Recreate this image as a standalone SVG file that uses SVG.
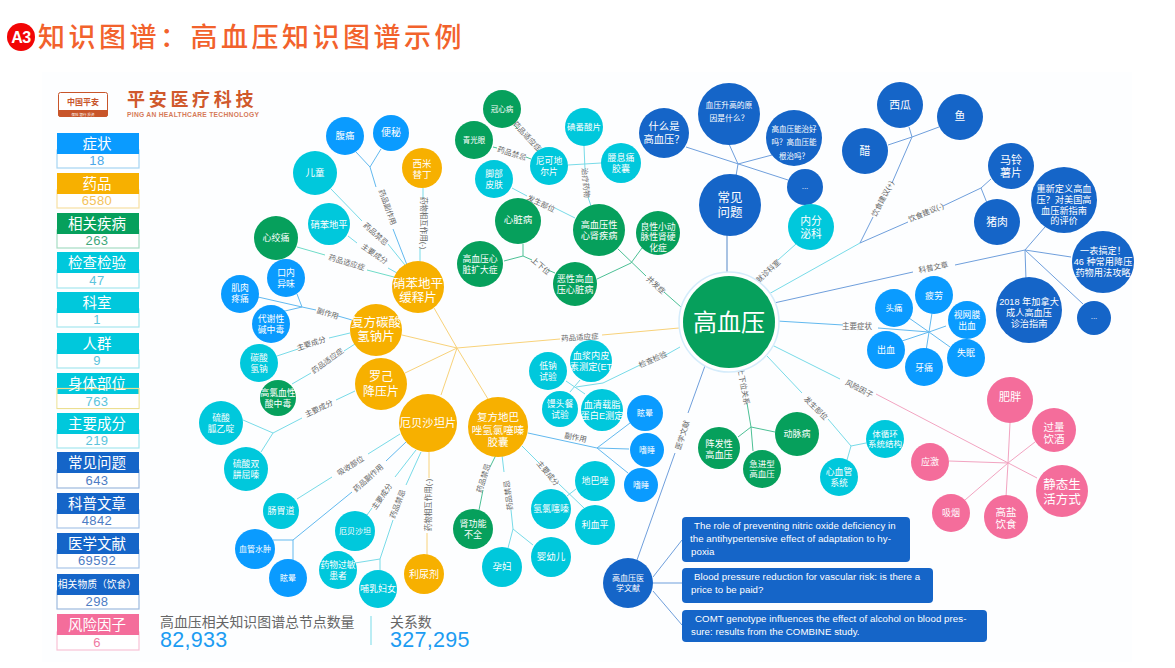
<svg xmlns="http://www.w3.org/2000/svg" width="1175" height="668" viewBox="0 0 1175 668">
<style>
text{font-family:"Liberation Sans","Noto Sans CJK SC",sans-serif}
.b{fill:#0a9bff}.a{fill:#f7b000}.g{fill:#06a05c}.c{fill:#00c8dc}.d{fill:#1565c8}.p{fill:#f46d9b}
.t{fill:#fff;text-anchor:middle}
.l{fill:#666;font-size:7.500px;text-anchor:middle}
.hd{fill:#fff;font-size:14.500px;text-anchor:middle}
.num{font-size:13px;text-anchor:middle;letter-spacing:.4px}
.box{fill:#fff;stroke-width:1.2}
.en{fill:#fff;font-size:9.700px;letter-spacing:.05px}
path{fill:none;stroke-width:1}
.ca{stroke:#f8d27a}.cb{stroke:#62b9ef}.cc{stroke:#78dbe8}.cg{stroke:#4cc095}.cd{stroke:#6f9fdc}.cp{stroke:#f2a4c1}.ct{stroke:#6fdcc8}
</style>
<rect x="42" y="72" width="1090" height="590" fill="#fdfeff"/>
<g id="title">
<circle cx="21" cy="37" r="14" fill="#f20505"/>
<text x="21" y="43" style="font-weight:700;font-size:16px;fill:#fff;text-anchor:middle;letter-spacing:-.5px">A3</text>
<text x="38" y="47" style="font-family:'Noto Sans CJK SC',sans-serif;font-size:27px;fill:#f2622c;letter-spacing:3.500px;font-weight:500">知识图谱&#xFF1A;高血压知识图谱示例</text>
</g>
<g id="logo">
<rect x="58.500" y="92.500" width="49" height="24" rx="2" fill="#fff" stroke="#c8552a"/>
<path d="M58 110H108V114a3 3 0 0 1-3 3H61a3 3 0 0 1-3-3Z" style="fill:#c8552a;stroke:none"/>
<text x="83" y="105" style="font-size:8px;font-weight:700;fill:#c8552a;text-anchor:middle">中国平安</text>
<text x="83" y="115.500" style="font-size:3.500px;fill:#fff;text-anchor:middle">保险 银行 投资</text>
<text x="127" y="106" style="font-size:18px;font-weight:700;fill:#d0592c;letter-spacing:3.700px">平安医疗科技</text>
<text x="127" y="117" style="font-size:6.700px;font-weight:700;fill:#d67a58;letter-spacing:.28px">PING AN HEALTHCARE TECHNOLOGY</text>
</g>
<g id="legend">
<g id="lg-zz"><rect class="box" x="57" y="150" width="82" height="18" stroke="#a6d4f2"/><rect x="57" y="133" width="82" height="21" fill="#0a9bff"/><text class="hd" x="97" y="149">症状</text><text class="num" x="97" y="165" fill="#4ca8e8">18</text></g>
<g id="lg-yp"><rect class="box" x="57" y="190" width="82" height="18" stroke="#f7dfa2"/><rect x="57" y="173" width="82" height="21" fill="#f7b000"/><text class="hd" x="97" y="189">药品</text><text class="num" x="97" y="205" fill="#f3c25a">6580</text></g>
<g id="lg-jb"><rect class="box" x="57" y="230" width="82" height="18" stroke="#a5dcc3"/><rect x="57" y="213" width="82" height="21" fill="#06a05c"/><text class="hd" x="97" y="229">相关疾病</text><text class="num" x="97" y="245" fill="#3fa97c">263</text></g>
<g id="lg-jc"><rect class="box" x="57" y="270" width="82" height="18" stroke="#a5e6ee"/><rect x="57" y="252" width="82" height="21" fill="#00c8dc"/><text class="hd" x="97" y="268">检查检验</text><text class="num" x="97" y="285" fill="#5cc4dc">47</text></g>
<g id="lg-ks"><rect class="box" x="57" y="309" width="82" height="18" stroke="#a5e6ee"/><rect x="57" y="292" width="82" height="21" fill="#00c8dc"/><text class="hd" x="97" y="308">科室</text><text class="num" x="97" y="324" fill="#5cc4dc">1</text></g>
<g id="lg-rq"><rect class="box" x="57" y="350" width="82" height="18" stroke="#a5e6ee"/><rect x="57" y="333" width="82" height="21" fill="#00c8dc"/><text class="hd" x="97" y="349">人群</text><text class="num" x="97" y="365" fill="#5cc4dc">9</text></g>
<g id="lg-bw"><rect x="57" y="373" width="82" height="21" fill="#00c8dc"/><rect x="57" y="388.500" width="82" height="20" fill="none" stroke="#ecdf90" stroke-width="1.200"/><rect x="57.600" y="394" width="80.800" height="14" fill="#fff"/><text class="hd" x="97" y="389">身体部位</text><text class="num" x="97" y="406" fill="#5cc4dc">763</text></g>
<g id="lg-cf"><rect class="box" x="57" y="430" width="82" height="18" stroke="#a5e6ee"/><rect x="57" y="413" width="82" height="21" fill="#00c8dc"/><text class="hd" x="97" y="429">主要成分</text><text class="num" x="97" y="445" fill="#5cc4dc">219</text></g>
<g id="lg-wt"><rect class="box" x="57" y="470" width="82" height="18" stroke="#9db9de"/><rect x="57" y="452" width="82" height="21" fill="#1565c8"/><text class="hd" x="97" y="468">常见问题</text><text class="num" x="97" y="485" fill="#4d7cc4">643</text></g>
<g id="lg-kp"><rect class="box" x="57" y="510" width="82" height="18" stroke="#a9c5e8"/><rect x="57" y="493" width="82" height="21" fill="#1565c8"/><text class="hd" x="97" y="509">科普文章</text><text class="num" x="97" y="525" fill="#4d7cc4">4842</text></g>
<g id="lg-wx"><rect class="box" x="57" y="550" width="82" height="18" stroke="#a9c5e8"/><rect x="57" y="533" width="82" height="21" fill="#1565c8"/><text class="hd" x="97" y="549">医学文献</text><text class="num" x="97" y="565" fill="#4d7cc4">69592</text></g>
<g id="lg-wz"><rect class="box" x="57" y="591" width="82" height="18" stroke="#9db9de"/><rect x="57" y="574" width="82" height="21" fill="#1565c8"/><text class="hd" style="font-size:9.800px" x="97" y="588">相关物质&#xFF08;饮食&#xFF09;</text><text class="num" x="97" y="606" fill="#4d7cc4">298</text></g>
<g id="lg-fx"><rect class="box" x="57" y="632" width="82" height="18" stroke="#f8c2d6"/><rect x="57" y="614" width="82" height="21" fill="#f46d9b"/><text class="hd" x="97" y="630">风险因子</text><text class="num" x="97" y="647" fill="#f07aa2">6</text></g>
</g>
<g id="stats">
<text x="160" y="627" style="font-size:13.900px;fill:#666">高血压相关知识图谱总节点数量</text>
<text x="160" y="647" style="font-size:21.500px;fill:#1c9cf2;letter-spacing:.3px">82,933</text>
<path class="cc" d="M371 616V645"/>
<text x="390" y="627" style="font-size:13.900px;fill:#666">关系数</text>
<text x="390" y="647" style="font-size:21.500px;fill:#1c9cf2;letter-spacing:.3px">327,295</text>
</g>
<g id="connectors">
<path class="ca" d="M434 308L457 348M402 335L457 348M405 373L457 348M441 395L457 348M488 399L457 348M457 348L560 339M602 335L679 328"/>
<path class="cb" d="M407 265L393 229M376 187L370 167L356 152M370 167L381 149"/>
<path class="cc" d="M423 188V198M420 248L420 263"/>
<path class="cc" d="M331 189L362 221M388 244L405 265M348 236L357 243M388 268L397 273"/>
<path class="ct" d="M297 247L325 255M367 270L394 277"/>
<path class="cb" d="M352 320L338 316M316 310L302 307L258 297M302 307L297 294M302 307L285 311L271 314"/>
<path class="cc" d="M350 333L329 338M298 349L277 356M355 344L344 351M311 373L292 384M355 391L336 400M302 418L273 433L243 420M273 433L261 452"/>
<path class="cc" d="M400 434L368 454M332 477L297 499M416 450L395 477M372 508L367 515M421 452L406 485M393 520L380 559L355 563M380 559V572"/>
<path class="cb" d="M406 442L386 461M352 492L293 540L273 540M293 540V560"/>
<path class="ca" d="M429 452V478M427 533V555"/>
<path class="cb" d="M528 433L597 448L630 423M597 448L629 449M597 448L628 473"/>
<path class="cc" d="M522 446L539 463M559 484L584 508M567 496L576 489"/>
<path class="cg" d="M496 455L490 467M483 490L479 510"/>
<path class="cc" d="M502 455L504 472M511 510L513 529L508 548M513 529L533 545"/>
<path class="cg" d="M618 249L646 276M664 292L681 307M642 248L631 263L597 279"/>
<path class="cc" d="M512 188L527 196M555 208L575 218"/>
<path class="cg" d="M555 273L548 270M532 260L523 256L523 244M523 256L504 261"/>
<path class="cc" d="M591 206L588 197M585 170L584 146M568 165L601 163"/>
<path class="cg" d="M514 125L518 129M537 150L541 155M493 147L497 148M526 157L531 159"/>
<path class="cd" d="M727 235V275" style="stroke:#a9c3e3;stroke-width:2"/>
<path class="cd" d="M736 176L738 164L729 144M738 164L772 155M686 147L788 180"/>
<path class="cc" d="M796 244L778 260M767 295L860 243"/>
<path class="cd" d="M860 243L873 217M892 183L912 137L909 127M912 137L939 127M912 137L888 145M860 243L908 222M943 206L981 188L991 179M981 188L987 203"/>
<path class="cd" d="M774 303L913 272M955 265L1025 250L1045 227M1025 250L1071 257M1025 250L1026 280M1025 250L1083 304"/>
<path class="cb" d="M777 321L843 325M878 328L929 332L909 318M929 332L932 313M929 332L946 326M929 332L902 341M929 332L926 351M929 332L950 347"/>
<path class="cc" d="M772 345L840 379M767 356L802 393M828 419L851 446L866 443M851 446L847 460"/>
<path class="cp" d="M876 394L1037 478M1008 463L1010 423M1008 463L1035 442M1008 463L949 461M1008 463L965 500M1008 463L1006 497"/>
<path class="cg" d="M747 403L751 427L738 437M751 427L753 451M751 427L775 432"/>
<path class="cd" d="M706 363L688 413M675 453L637 560M653 577L682 540M653 583H682M653 591L682 625"/>
<path class="cc" d="M680 347L664 356M640 365L603 383L576 387M566 381L585 394M580 380L570 392"/>
<text class="l" transform="translate(385 208) rotate(70)">药品副作用</text>
<text class="l" transform="translate(421 223) rotate(90)">药物相互作用(-)</text>
<text class="l" transform="translate(374 236) rotate(42)">药品禁忌</text>
<text class="l" transform="translate(373 256) rotate(35)">主要成分</text>
<text class="l" transform="translate(346 265) rotate(17)">药品适应症</text>
<text class="l" transform="translate(327 316) rotate(17)">副作用</text>
<text class="l" transform="translate(312 346) rotate(-18)">主要成分</text>
<text class="l" transform="translate(329 363) rotate(-36)">药品适应症</text>
<text class="l" transform="translate(320 411) rotate(-25)">主要成分</text>
<text class="l" transform="translate(352 468) rotate(-32)">吸收部位</text>
<text class="l" transform="translate(370 480) rotate(-42)">药品副作用</text>
<text class="l" transform="translate(384 498) rotate(-55)">主要成分</text>
<text class="l" transform="translate(400 505) rotate(-68)">药品禁忌</text>
<text class="l" transform="translate(431 505) rotate(-90)">药物相互作用(-)</text>
<text class="l" transform="translate(575 440) rotate(12)">副作用</text>
<text class="l" transform="translate(546 475) rotate(50)">主要成分</text>
<text class="l" transform="translate(486 479) rotate(-73)">药品禁忌</text>
<text class="l" transform="translate(511 495) rotate(-98)">药品禁忌</text>
<text class="l" transform="translate(654 287) rotate(42)">并发症</text>
<text class="l" transform="translate(540 206) rotate(25)">发生部位</text>
<text class="l" transform="translate(539 268) rotate(40)">上下位</text>
<text class="l" transform="translate(583 183) rotate(85)">治疗药物</text>
<text class="l" transform="translate(525 138) rotate(47)">药品适应症</text>
<text class="l" transform="translate(511 156) rotate(18)">药品禁忌</text>
<text class="l" transform="translate(770 273) rotate(-43)">就诊科室</text>
<text class="l" transform="translate(885 200) rotate(-63)">饮食建议(+)</text>
<text class="l" transform="translate(927 215) rotate(-23)">饮食建议(-)</text>
<text class="l" transform="translate(934 270) rotate(-12)">科普文章</text>
<text class="l" x="857" y="329">主要症状</text>
<text class="l" transform="translate(858 391) rotate(27)">风险因子</text>
<text class="l" transform="translate(814 410) rotate(45)">发生部位</text>
<text class="l" transform="translate(741 387) rotate(80)">上下位关系</text>
<text class="l" transform="translate(685 436) rotate(-72)">医学文献</text>
<text class="l" transform="translate(580 340) rotate(-4)">药品适应症</text>
<text class="l" transform="translate(654 362) rotate(-24)">检查检验</text>
</g>
<g id="n-gxy"><circle cx="729" cy="322" r="50" fill="#fff" stroke="#d5ecfb" stroke-width="1.500"/><circle class="g" cx="729" cy="322" r="46"/><text class="t" x="729" y="331" style="font-size:24px">高血压</text></g>
<g id="n-xbdp"><circle class="a" cx="418" cy="287" r="26"/><text class="t" style="font-size:12.500px" x="418" y="287.500">硝苯地平<tspan x="418" dy="14.700">缓释片</tspan></text></g>
<g id="n-ftsq"><circle class="a" cx="376" cy="330" r="26"/><text class="t" style="font-size:12.500px" x="376" y="326.500">复方碳酸<tspan x="376" dy="14.500">氢钠片</tspan></text></g>
<g id="n-lj"><circle class="a" cx="381" cy="384" r="26"/><text class="t" style="font-size:12px" x="381" y="381.300">罗己<tspan x="381" dy="15">降压片</tspan></text></g>
<g id="n-ebst"><circle class="a" cx="428" cy="423" r="29"/><text class="t" style="font-size:11.300px" x="428" y="427">厄贝沙坦片</text></g>
<g id="n-fdb"><circle class="a" cx="498" cy="427" r="30"/><text class="t" style="font-size:10.500px" x="498" y="421">复方地巴<tspan x="498" dy="12.500">唑氢氯噻嗪</tspan><tspan x="498" dy="12.500">胶囊</tspan></text></g>
<g id="n-xmtd"><circle class="a" cx="422" cy="168" r="20"/><text class="t" style="font-size:9.500px" x="422" y="166.500">西米<tspan x="422" dy="11">替丁</tspan></text></g>
<g id="n-lnj"><circle class="a" cx="424" cy="574" r="20"/><text class="t" style="font-size:10px" x="424" y="578">利尿剂</text></g>
<g id="n-ft"><circle class="b" cx="345" cy="136" r="19"/><text class="t" style="font-size:9.500px" x="345" y="139">腹痛</text></g>
<g id="n-bm"><circle class="b" cx="391" cy="133" r="18"/><text class="t" style="font-size:10px" x="391" y="136">便秘</text></g>
<g id="n-et"><circle class="c" cx="315" cy="173" r="22"/><text class="t" style="font-size:9.500px" x="315" y="176">儿童</text></g>
<g id="n-xb"><circle class="c" cx="329" cy="224" r="21"/><text class="t" style="font-size:9.300px" x="329" y="228">硝苯地平</text></g>
<g id="n-xjt"><circle class="g" cx="276" cy="238" r="22"/><text class="t" style="font-size:9px" x="276" y="241">心绞痛</text></g>
<g id="n-kn"><circle class="b" cx="286" cy="278" r="19"/><text class="t" style="font-size:8.800px" x="286" y="276">口内<tspan x="286" dy="10.500">异味</tspan></text></g>
<g id="n-jr"><circle class="b" cx="240" cy="294" r="19"/><text class="t" style="font-size:8.800px" x="240" y="291">肌肉<tspan x="240" dy="10.500">疼痛</tspan></text></g>
<g id="n-dx"><circle class="b" cx="271" cy="324" r="19"/><text class="t" style="font-size:8.800px" x="271" y="322">代谢性<tspan x="271" dy="10.500">碱中毒</tspan></text></g>
<g id="n-tsqn"><circle class="c" cx="259" cy="363" r="19"/><text class="t" style="font-size:8.800px" x="259" y="361">碳酸<tspan x="259" dy="10.500">氢钠</tspan></text></g>
<g id="n-gl"><circle class="g" cx="278" cy="398" r="18"/><text class="t" style="font-size:8.800px" x="278" y="396">高氯血性<tspan x="278" dy="10.500">酸中毒</tspan></text></g>
<g id="n-lsg"><circle class="c" cx="221" cy="423" r="22"/><text class="t" style="font-size:8.800px" x="221" y="421">硫酸<tspan x="221" dy="10.500">胍乙啶</tspan></text></g>
<g id="n-lss"><circle class="c" cx="246" cy="469" r="22"/><text class="t" style="font-size:8.800px" x="246" y="467">硫酸双<tspan x="246" dy="10.500">肼屈嗪</tspan></text></g>
<g id="n-cwd"><circle class="c" cx="281" cy="511" r="18"/><text class="t" style="font-size:9px" x="281" y="514">肠胃道</text></g>
<g id="n-xg"><circle class="b" cx="255" cy="549" r="20"/><text class="t" style="font-size:8px" x="255" y="552">血管水肿</text></g>
<g id="n-xy1"><circle class="b" cx="288" cy="578" r="19"/><text class="t" style="font-size:8px" x="288" y="581">眩晕</text></g>
<g id="n-eb"><circle class="c" cx="355" cy="531" r="20"/><text class="t" style="font-size:8px" x="355" y="534">厄贝沙坦</text></g>
<g id="n-ywgm"><circle class="c" cx="338" cy="570" r="19"/><text class="t" style="font-size:8.800px" x="338" y="568">药物过敏<tspan x="338" dy="10.500">患者</tspan></text></g>
<g id="n-brfn"><circle class="c" cx="378" cy="589" r="19"/><text class="t" style="font-size:9px" x="378" y="592">哺乳妇女</text></g>
<g id="n-gxb"><circle class="g" cx="502" cy="109" r="19"/><text class="t" style="font-size:7.500px" x="502" y="112">冠心病</text></g>
<g id="n-qgy"><circle class="g" cx="474" cy="140" r="19"/><text class="t" style="font-size:7.500px" x="474" y="143">青光眼</text></g>
<g id="n-jb"><circle class="c" cx="494" cy="179" r="19"/><text class="t" style="font-size:8.800px" x="494" y="177">脚部<tspan x="494" dy="10.500">皮肤</tspan></text></g>
<g id="n-nk"><circle class="c" cx="549" cy="166" r="19"/><text class="t" style="font-size:8.800px" x="549" y="164">尼可地<tspan x="549" dy="10.500">尔片</tspan></text></g>
<g id="n-dfs"><circle class="c" cx="584" cy="127" r="19"/><text class="t" style="font-size:8.500px" x="584" y="130">碘番酸片</text></g>
<g id="n-yxt"><circle class="c" cx="621" cy="163" r="20"/><text class="t" style="font-size:9px" x="621" y="161">腰息痛<tspan x="621" dy="11">胶囊</tspan></text></g>
<g id="n-xzb"><circle class="g" cx="518" cy="221" r="23"/><text class="t" style="font-size:9.500px" x="518" y="223">心脏病</text></g>
<g id="n-kd"><circle class="g" cx="480" cy="264" r="23"/><text class="t" style="font-size:8.800px" x="480" y="262">高血压心<tspan x="480" dy="10.500">脏扩大症</tspan></text></g>
<g id="n-xs"><circle class="g" cx="599" cy="230" r="26"/><text class="t" style="font-size:9.200px" x="599" y="228">高血压性<tspan x="599" dy="11">心肾疾病</tspan></text></g>
<g id="n-lx"><circle class="g" cx="658" cy="233" r="22"/><text class="t" style="font-size:8.800px" x="658" y="229.500">良性小动<tspan x="658" dy="10.500">脉性肾硬</tspan><tspan x="658" dy="10.500">化症</tspan></text></g>
<g id="n-ex"><circle class="g" cx="575" cy="284" r="22"/><text class="t" style="font-size:9.200px" x="575" y="282">恶性高血<tspan x="575" dy="11">压心脏病</tspan></text></g>
<g id="n-xjnp"><circle class="c" cx="591" cy="361" r="21"/><text class="t" style="font-size:9.200px" x="591" y="359">血浆内皮<tspan x="591" dy="11">素测定(ET</tspan></text></g>
<g id="n-dn"><circle class="c" cx="548" cy="371" r="19"/><text class="t" style="font-size:8.800px" x="548" y="369">低钠<tspan x="548" dy="10.500">试验</tspan></text></g>
<g id="n-mt"><circle class="c" cx="560" cy="409" r="18"/><text class="t" style="font-size:8.800px" x="560" y="407">馒头餐<tspan x="560" dy="10.500">试验</tspan></text></g>
<g id="n-xq"><circle class="c" cx="602" cy="410" r="21"/><text class="t" style="font-size:9.200px" x="602" y="408">血清载脂<tspan x="602" dy="11">蛋白E测定</tspan></text></g>
<g id="n-xy2"><circle class="b" cx="645" cy="413" r="18"/><text class="t" style="font-size:8px" x="645" y="416">眩晕</text></g>
<g id="n-ss1"><circle class="b" cx="647" cy="450" r="17"/><text class="t" style="font-size:8px" x="647" y="453">嗜睡</text></g>
<g id="n-ss2"><circle class="b" cx="641" cy="485" r="17"/><text class="t" style="font-size:8px" x="641" y="488">嗜睡</text></g>
<g id="n-dbz"><circle class="c" cx="595" cy="481" r="20"/><text class="t" style="font-size:9px" x="595" y="484">地巴唑</text></g>
<g id="n-qlsq"><circle class="c" cx="551" cy="509" r="20"/><text class="t" style="font-size:9px" x="551" y="512">氢氯噻嗪</text></g>
<g id="n-lxp"><circle class="c" cx="595" cy="525" r="20"/><text class="t" style="font-size:9px" x="595" y="528">利血平</text></g>
<g id="n-sgn"><circle class="g" cx="473" cy="529" r="20"/><text class="t" style="font-size:9px" x="473" y="527">肾功能<tspan x="473" dy="11">不全</tspan></text></g>
<g id="n-yf"><circle class="c" cx="502" cy="567" r="20"/><text class="t" style="font-size:9.500px" x="502" y="570">孕妇</text></g>
<g id="n-yye"><circle class="c" cx="551" cy="557" r="20"/><text class="t" style="font-size:9.500px" x="551" y="560">婴幼儿</text></g>
<g id="n-wx"><circle class="d" cx="628" cy="583" r="25"/><text class="t" style="font-size:8px" x="628" y="581">高血压医<tspan x="628" dy="10">学文献</tspan></text></g>
<g id="n-wsm"><circle class="d" cx="664" cy="133" r="25"/><text class="t" style="font-size:10.300px" x="664" y="130">什么是<tspan x="664" dy="12.500">高血压&#xFF1F;</tspan></text></g>
<g id="n-cj"><circle class="d" cx="730" cy="205" r="31"/><text class="t" style="font-size:12.500px" x="730" y="202">常见<tspan x="730" dy="15">问题</tspan></text></g>
<g id="n-yy"><circle class="d" cx="729" cy="114" r="31"/><text class="t" style="font-size:7.800px" x="729" y="108">血压升高的原<tspan x="729" dy="12.700">因是什么&#xFF1F;</tspan></text></g>
<g id="n-zh"><circle class="d" cx="794" cy="138" r="28"/><text class="t" style="font-size:7.500px" x="794" y="132">高血压能治好<tspan x="794" dy="13.300">吗&#xFF1F;高血压能</tspan><tspan x="794" dy="13.300">根治吗&#xFF1F;</tspan></text></g>
<g id="n-m1"><circle class="d" cx="805" cy="187" r="18"/><text class="t" style="font-size:8px" x="805" y="189">...</text></g>
<g id="n-nfm"><circle class="c" cx="811" cy="227" r="23"/><text class="t" style="font-size:10.800px" x="811" y="225">内分<tspan x="811" dy="12.500">泌科</tspan></text></g>
<g id="n-xg2"><circle class="d" cx="900" cy="105" r="23"/><text class="t" style="font-size:10.800px" x="900" y="109">西瓜</text></g>
<g id="n-y"><circle class="d" cx="960" cy="117" r="23"/><text class="t" style="font-size:10.800px" x="960" y="120">鱼</text></g>
<g id="n-c"><circle class="d" cx="865" cy="151" r="23"/><text class="t" style="font-size:10.800px" x="865" y="155">醋</text></g>
<g id="n-mls"><circle class="d" cx="1011" cy="166" r="23"/><text class="t" style="font-size:11px" x="1011" y="163.500">马铃<tspan x="1011" dy="13.300">薯片</tspan></text></g>
<g id="n-zr"><circle class="d" cx="997" cy="222" r="23"/><text class="t" style="font-size:10.800px" x="997" y="226">猪肉</text></g>
<g id="n-cx"><circle class="d" cx="1064" cy="200" r="33"/><text class="t" style="font-size:9.200px" x="1064" y="192.300">重新定义高血<tspan x="1064" dy="10.700">压&#xFF1F;对美国高</tspan><tspan x="1064" dy="10.700">血压新指南</tspan><tspan x="1064" dy="10.700">的评价</tspan></text></g>
<g id="n-yb"><circle class="d" cx="1103" cy="262" r="31"/><text class="t" style="font-size:9.200px" x="1103" y="254.300">一表搞定&#xFF01;<tspan x="1103" dy="11">46 种常用降压</tspan><tspan x="1103" dy="11">药物用法攻略</tspan></text></g>
<g id="n-jnd"><circle class="d" cx="1029" cy="310" r="33"/><text class="t" style="font-size:9.200px" x="1029" y="305.300">2018 年加拿大<tspan x="1029" dy="10.700">成人高血压</tspan><tspan x="1029" dy="10.700">诊治指南</tspan></text></g>
<g id="n-m2"><circle class="d" cx="1094" cy="318" r="17"/><text class="t" style="font-size:8px" x="1094" y="319">...</text></g>
<g id="n-tt"><circle class="b" cx="894" cy="308" r="19"/><text class="t" style="font-size:8.500px" x="894" y="311">头痛</text></g>
<g id="n-pl"><circle class="b" cx="934" cy="295" r="19"/><text class="t" style="font-size:9px" x="934" y="299">疲劳</text></g>
<g id="n-swm"><circle class="b" cx="967" cy="320" r="19"/><text class="t" style="font-size:8.800px" x="967" y="318">视网膜<tspan x="967" dy="10.500">出血</tspan></text></g>
<g id="n-cx2"><circle class="b" cx="886" cy="350" r="19"/><text class="t" style="font-size:9px" x="886" y="353">出血</text></g>
<g id="n-yt"><circle class="b" cx="924" cy="367" r="19"/><text class="t" style="font-size:9px" x="924" y="371">牙痛</text></g>
<g id="n-sm"><circle class="b" cx="966" cy="358" r="19"/><text class="t" style="font-size:9px" x="966" y="356">失眠</text></g>
<g id="n-fp"><circle class="p" cx="1010" cy="400" r="23"/><text class="t" style="font-size:11.300px" x="1010" y="401">肥胖</text></g>
<g id="n-gl2"><circle class="p" cx="1054" cy="430" r="22"/><text class="t" style="font-size:10.500px" x="1054" y="431">过量<tspan x="1054" dy="12">饮酒</tspan></text></g>
<g id="n-jt"><circle class="p" cx="1062" cy="491" r="26"/><text class="t" style="font-size:12.500px" x="1062" y="488.500">静态生<tspan x="1062" dy="15">活方式</tspan></text></g>
<g id="n-gy"><circle class="p" cx="1006" cy="517" r="22"/><text class="t" style="font-size:10.500px" x="1006" y="516">高盐<tspan x="1006" dy="12">饮食</tspan></text></g>
<g id="n-xy"><circle class="p" cx="951" cy="513" r="19"/><text class="t" style="font-size:9px" x="951" y="516">吸烟</text></g>
<g id="n-yj"><circle class="p" cx="930" cy="462" r="19"/><text class="t" style="font-size:9px" x="930" y="465">应激</text></g>
<g id="n-zf"><circle class="g" cx="719" cy="448" r="21"/><text class="t" style="font-size:9.200px" x="719" y="447">阵发性<tspan x="719" dy="11">高血压</tspan></text></g>
<g id="n-jj"><circle class="g" cx="762" cy="469" r="19"/><text class="t" style="font-size:8.500px" x="762" y="467">急进型<tspan x="762" dy="10">高血压</tspan></text></g>
<g id="n-dm"><circle class="g" cx="797" cy="434" r="22"/><text class="t" style="font-size:9px" x="797" y="437">动脉病</text></g>
<g id="n-txh"><circle class="c" cx="885" cy="439" r="19"/><text class="t" style="font-size:8.500px" x="885" y="437">体循环<tspan x="885" dy="10">系统结构</tspan></text></g>
<g id="n-xxg"><circle class="c" cx="839" cy="477" r="19"/><text class="t" style="font-size:8.800px" x="839" y="475">心血管<tspan x="839" dy="10.500">系统</tspan></text></g>
<g id="box1"><rect class="d" x="682" y="517" width="228" height="45" rx="4"/><text class="en" x="694" y="529">The role of preventing nitric oxide deficiency in</text><text class="en" x="690" y="542">the antihypertensive effect of adaptation to hy-</text><text class="en" x="691" y="555">poxia</text></g>
<g id="box2"><rect class="d" x="682" y="568" width="251" height="35" rx="4"/><text class="en" x="694" y="580">Blood pressure reduction for vascular risk: is there a</text><text class="en" x="691" y="593">price to be paid?</text></g>
<g id="box3"><rect class="d" x="682" y="610" width="305" height="32" rx="4"/><text class="en" x="695" y="622">COMT genotype influences the effect of alcohol on blood pres-</text><text class="en" x="691" y="635">sure: results from the COMBINE study.</text></g>
</svg>
